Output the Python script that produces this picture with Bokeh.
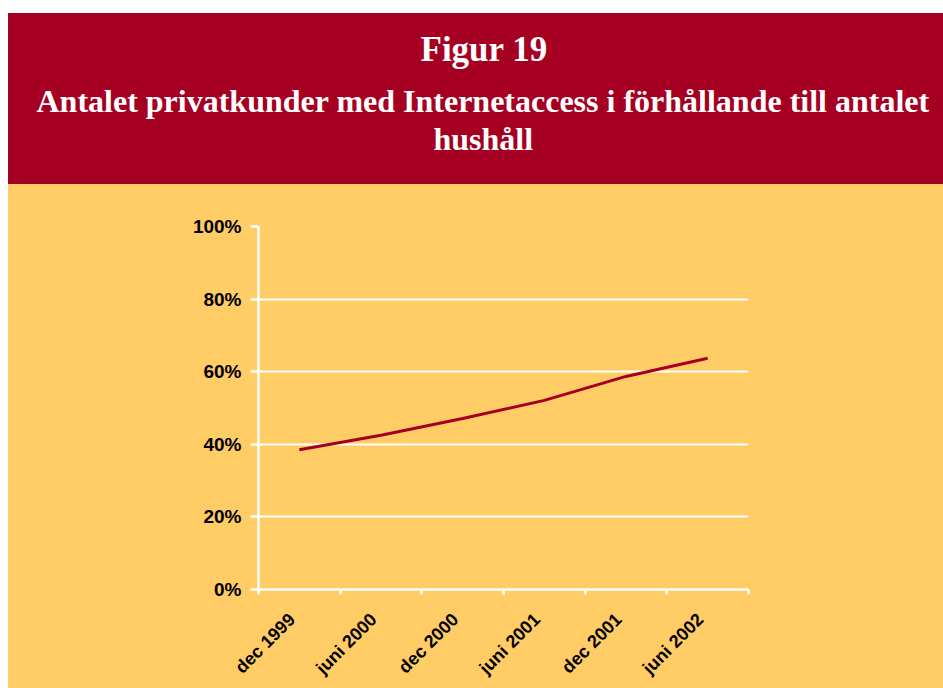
import math
from bokeh.plotting import figure
from bokeh.layouts import column, row
from bokeh.models import Spacer, FixedTicker, Range1d, ColumnDataSource, Title
from bokeh.embed import file_html
from bokeh.resources import INLINE

# ---- data ----
periods = ["dec 1999", "juni 2000", "dec 2000", "juni 2001", "dec 2001", "juni 2002"]
share = [0.385, 0.425, 0.471, 0.521, 0.587, 0.637]
y_ticks = [0.0, 0.2, 0.4, 0.6, 0.8, 1.0]
y_tick_labels = ["0%", "20%", "40%", "60%", "80%", "100%"]
fig_number = "Figur 19"
title_lines = ["Antalet privatkunder med Internetaccess i förhållande till antalet", "hushåll"]

RED = "#A50021"
ORANGE = "#FFCC66"
W = 935

# ---- header ----
hdr = figure(width=W, height=171, output_backend="svg", toolbar_location=None,
             x_range=Range1d(0, 1), y_range=Range1d(0, 1),
             min_border_left=0, min_border_right=0, min_border_bottom=0, min_border_top=143,
             background_fill_color=None, border_fill_color=None,
             outline_line_color=None, styles={"background-color": RED})
hdr.axis.visible = False
hdr.grid.visible = False
hdr.title = None
# (text, font size, left offset from frame, standoff)
header_specs = [(title_lines[1], "32px", 175, 0),
                (title_lines[0], "32px", -222, 0),
                (fig_number, "35px", 162, 23)]
for txt, size, off, gap in header_specs:
    hdr.add_layout(Title(text=txt, align="left", offset=off, standoff=gap,
                         text_color="white", text_font="Liberation Serif",
                         text_font_style="bold", text_font_size=size), "above")

# ---- chart ----
n = len(periods)
xs = [i + 0.5 for i in range(n)]
label_shift = 0.09  # rotated labels sit slightly left of the category centre
src = ColumnDataSource(dict(x=xs, y=share))

p = figure(width=W, height=504, output_backend="svg", toolbar_location=None,
           x_range=Range1d(0, n), y_range=Range1d(0, 1),
           min_border_left=250, min_border_right=195, min_border_top=42, min_border_bottom=95,
           background_fill_color=None, border_fill_color=None,
           outline_line_color=None, styles={"background-color": ORANGE})

p.line("x", "y", source=src, line_color=RED, line_width=3)

# y axis
p.yaxis.ticker = FixedTicker(ticks=y_ticks)
p.yaxis.major_label_overrides = {t: l for t, l in zip(y_ticks, y_tick_labels)}
p.yaxis.axis_line_color = "white"
p.yaxis.axis_line_width = 2.5
p.yaxis.major_tick_line_color = "white"
p.yaxis.major_tick_line_width = 2.5
p.yaxis.major_tick_out = 8
p.yaxis.major_tick_in = 0
p.yaxis.minor_tick_line_color = None
p.yaxis.major_label_text_font = "Liberation Sans"
p.yaxis.major_label_text_font_style = "bold"
p.yaxis.major_label_text_font_size = "19px"
p.yaxis.major_label_text_color = "black"
p.yaxis.major_label_standoff = 9

# x axis: labels near category centres, tick marks at category boundaries
lx = [x - label_shift for x in xs]
p.xaxis.ticker = FixedTicker(ticks=lx, minor_ticks=list(range(n + 1)))
p.xaxis.major_label_overrides = {x: l for x, l in zip(lx, periods)}
p.xaxis.major_label_orientation = math.pi / 4
p.xaxis.axis_line_color = "white"
p.xaxis.axis_line_width = 2.5
p.xaxis.major_tick_line_color = None
p.xaxis.minor_tick_line_color = "white"
p.xaxis.minor_tick_line_width = 2.5
p.xaxis.minor_tick_out = 5
p.xaxis.minor_tick_in = 0
p.xaxis.major_label_text_font = "Liberation Sans"
p.xaxis.major_label_text_font_style = "bold"
p.xaxis.major_label_text_font_size = "18px"
p.xaxis.major_label_text_color = "black"
p.xaxis.major_label_standoff = 21

p.xgrid.visible = False
p.ygrid.ticker = FixedTicker(ticks=y_ticks)
p.ygrid.grid_line_color = "white"
p.ygrid.grid_line_width = 2

layout = column(Spacer(width=943, height=13),
                row(Spacer(width=8, height=675), column(hdr, p, spacing=0), spacing=0),
                spacing=0)

open("out.html", "w").write(file_html(layout, INLINE))
